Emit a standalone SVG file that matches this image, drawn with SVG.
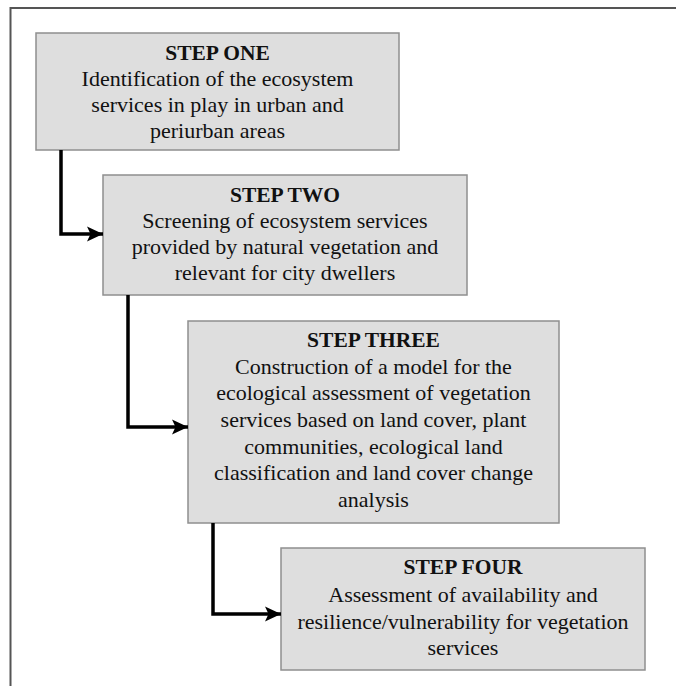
<svg xmlns="http://www.w3.org/2000/svg" width="676" height="686" viewBox="0 0 676 686">
  <style>
    .box { fill: #dedede; stroke: #8f8f8f; stroke-width: 1.5; }
    .title { font-family: "Liberation Serif", "Times New Roman", serif; font-size: 21.5px; font-weight: bold; fill: #111; text-anchor: middle; }
    .body { font-family: "Liberation Serif", "Times New Roman", serif; font-size: 22px; fill: #111; text-anchor: middle; }
    .conn { fill: none; stroke: #000; stroke-width: 3.5; stroke-linejoin: miter; }
    .frame { fill: none; stroke: #555; stroke-width: 2; }
  </style>
  <defs>
    <marker id="arrow" markerUnits="userSpaceOnUse" markerWidth="18" markerHeight="16" refX="16" refY="8" orient="auto">
      <path d="M0,0.5 L16,8 L0,15.5 L3.5,8 Z" fill="#000"/>
    </marker>
  </defs>
  <rect width="676" height="686" fill="#fff"/>
  <path class="frame" d="M10.5,686 L10.5,8 L676,8"/>

  <g id="step-one">
    <rect class="box" x="36" y="33" width="363" height="117"/>
    <text class="title" x="217.5" y="60">STEP ONE</text>
    <text class="body" x="217.5" y="86">Identification of the ecosystem</text>
    <text class="body" x="217.5" y="112">services in play in urban and</text>
    <text class="body" x="217.5" y="138">periurban areas</text>
  </g>

  <g id="step-two">
    <rect class="box" x="103" y="175" width="364" height="120"/>
    <text class="title" x="285" y="202">STEP TWO</text>
    <text class="body" x="285" y="228">Screening of ecosystem services</text>
    <text class="body" x="285" y="254">provided by natural vegetation and</text>
    <text class="body" x="285" y="280">relevant for city dwellers</text>
  </g>

  <g id="step-three">
    <rect class="box" x="188" y="321" width="371" height="202"/>
    <text class="title" x="373.5" y="347">STEP THREE</text>
    <text class="body" x="373.5" y="374">Construction of a model for the</text>
    <text class="body" x="373.5" y="400">ecological assessment of vegetation</text>
    <text class="body" x="373.5" y="427">services based on land cover, plant</text>
    <text class="body" x="373.5" y="454">communities, ecological land</text>
    <text class="body" x="373.5" y="480">classification and land cover change</text>
    <text class="body" x="373.5" y="507">analysis</text>
  </g>

  <g id="step-four">
    <rect class="box" x="281" y="548" width="364" height="122"/>
    <text class="title" x="463" y="574">STEP FOUR</text>
    <text class="body" x="463" y="602">Assessment of availability and</text>
    <text class="body" x="463" y="629">resilience/vulnerability for vegetation</text>
    <text class="body" x="463" y="655">services</text>
  </g>

  <g id="connectors">
    <path class="conn" d="M61,150 L61,234 L103,234" marker-end="url(#arrow)"/>
    <path class="conn" d="M128,295 L128,427 L188,427" marker-end="url(#arrow)"/>
    <path class="conn" d="M213,523 L213,614 L281,614" marker-end="url(#arrow)"/>
  </g>
</svg>
